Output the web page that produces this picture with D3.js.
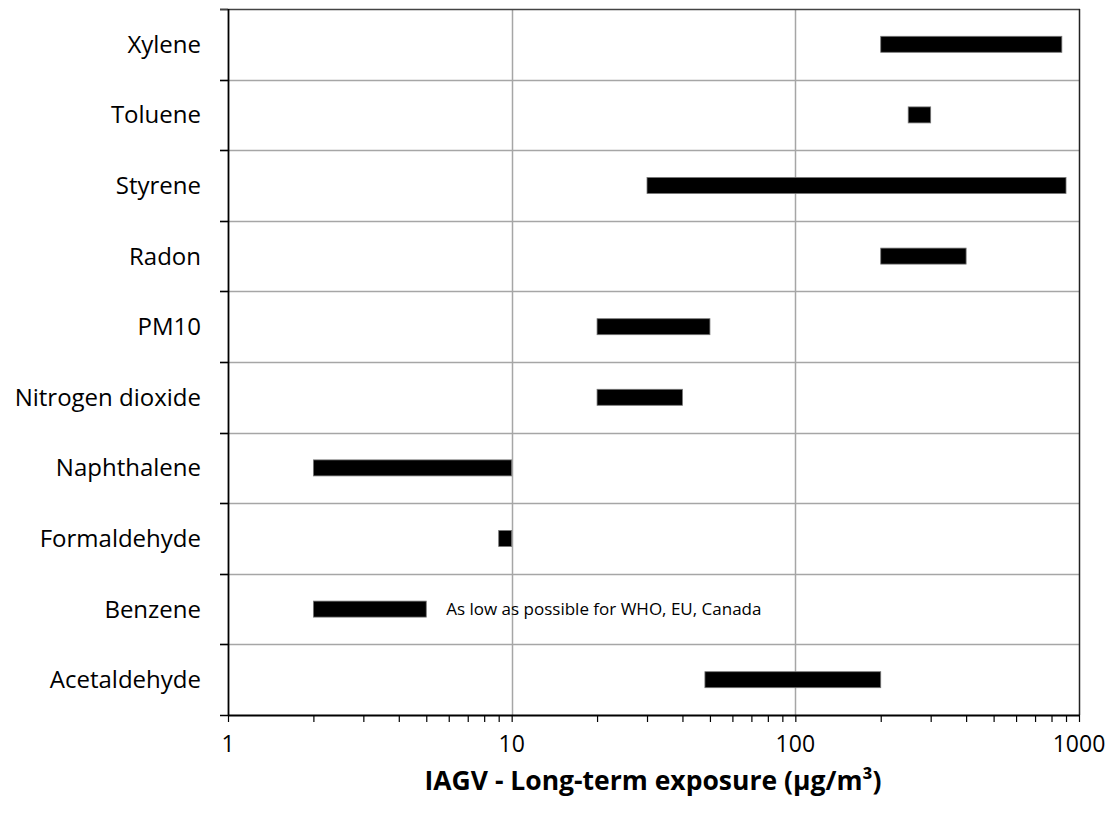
<!DOCTYPE html>
<html>
<head>
<meta charset="utf-8">
<script src="https://cdn.jsdelivr.net/npm/d3@7"></script>
<style>
  html, body { margin: 0; padding: 0; background: #fff; }
  svg { display: block; }
  text { font-family: "Open Sans", sans-serif; fill: #000; }
</style>
</head>
<body>
<svg id="chart" width="1119" height="814"></svg>
<script>
const categories = ["Xylene", "Toluene", "Styrene", "Radon", "PM10", "Nitrogen dioxide",
                    "Naphthalene", "Formaldehyde", "Benzene", "Acetaldehyde"];
const lowValues  = [200, 250, 30, 200, 20, 20, 2, 9, 2, 48];
const highValues = [870, 300, 900, 400, 50, 40, 10, 10, 5, 200];
const xTickValues = [1, 10, 100, 1000];
const xTickLabels = ["1", "10", "100", "1000"];
const annotationCategory = "Benzene";
const annotationValue = 5.6;
const annotationText = "As low as possible for WHO, EU, Canada";
const xTitle = "IAGV - Long-term exposure (µg/m³)";

const svg = d3.select("#chart");
const pLeft = 228, pRight = 1079, pTop = 9, pBottom = 715;

const x = d3.scaleLog().domain([1, 1000]).range([pLeft, pRight]);
const y = d3.scaleBand().domain(categories).range([pTop, pBottom]).padding(0);

const data = categories.map((c, i) => ({ cat: c, lo: lowValues[i], hi: highValues[i] }));

// horizontal gridlines at band boundaries
const bounds = categories.map(c => y(c)).concat([pBottom]);
svg.append("g").selectAll("line").data(bounds.slice(1, -1)).join("line")
  .attr("x1", pLeft - 8).attr("x2", pRight)
  .attr("y1", d => Math.round(d) + 0.5).attr("y2", d => Math.round(d) + 0.5)
  .attr("stroke", "#a6a6a6").attr("stroke-width", 1.5);
// outward ticks
svg.append("g").selectAll("line").data(bounds).join("line")
  .attr("x1", pLeft - 8).attr("x2", pLeft)
  .attr("y1", d => Math.round(d) + 0.5).attr("y2", d => Math.round(d) + 0.5)
  .attr("stroke", "#000").attr("stroke-width", 1.5);

// vertical gridlines at 10 and 100
svg.append("g").selectAll("line").data([10, 100]).join("line")
  .attr("x1", d => Math.round(x(d)) + 0.5).attr("x2", d => Math.round(x(d)) + 0.5)
  .attr("y1", pTop).attr("y2", pBottom)
  .attr("stroke", "#a6a6a6").attr("stroke-width", 1.5);

// top border & right border
svg.append("line").attr("x1", pLeft - 8).attr("x2", pRight + 1).attr("y1", pTop + 0.5).attr("y2", pTop + 0.5)
  .attr("stroke", "#444").attr("stroke-width", 1.5);
svg.append("line").attr("x1", pRight + 0.5).attr("x2", pRight + 0.5).attr("y1", pTop).attr("y2", pBottom)
  .attr("stroke", "#222").attr("stroke-width", 1.5);

// bars
const barH = 16;
svg.append("g").selectAll("rect").data(data).join("rect")
  .attr("x", d => x(d.lo))
  .attr("width", d => x(d.hi) - x(d.lo))
  .attr("y", d => y(d.cat) + y.bandwidth() / 2 - barH / 2)
  .attr("height", barH)
  .attr("fill", "#000")
  .attr("stroke", "#777").attr("stroke-width", 0.8);

// left axis line
svg.append("line").attr("x1", pLeft + 0.5).attr("x2", pLeft + 0.5).attr("y1", pTop).attr("y2", pBottom)
  .attr("stroke", "#000").attr("stroke-width", 1.8);

// category labels
svg.append("g").selectAll("text").data(categories).join("text")
  .attr("x", 201)
  .attr("y", d => y(d) + y.bandwidth() / 2)
  .attr("dy", "0.35em")
  .attr("text-anchor", "end")
  .style("font-size", "24px")
  .text(d => d);

// bottom axis
const xAxis = d3.axisBottom(x)
  .tickValues(d3.range(0, 3).flatMap(p => d3.range(1, 10).map(m => m * Math.pow(10, p))).concat([1000]))
  .tickSize(7)
  .tickFormat("");
const gx = svg.append("g").attr("transform", `translate(0,${pBottom})`).call(xAxis);
gx.select(".domain").attr("stroke", "#000").attr("stroke-width", 1.8)
  .attr("d", `M${pLeft},0.5H${pRight + 1}`);
gx.selectAll(".tick line").attr("stroke", "#000").attr("stroke-width", 1.2);

svg.append("g").selectAll("text").data(xTickValues).join("text")
  .attr("x", d => x(d))
  .attr("y", 752)
  .attr("text-anchor", "middle")
  .style("font-size", "23px")
  .text((d, i) => xTickLabels[i]);

// axis title
svg.append("text")
  .attr("x", 653)
  .attr("y", 790)
  .attr("text-anchor", "middle")
  .style("font-size", "26.5px")
  .style("font-weight", "bold")
  .text(xTitle);

// annotation
svg.append("text")
  .attr("x", x(annotationValue) + 6)
  .attr("y", y(annotationCategory) + y.bandwidth() / 2)
  .attr("dy", "0.35em")
  .style("font-size", "17px")
  .text(annotationText);
</script>
</body>
</html>
